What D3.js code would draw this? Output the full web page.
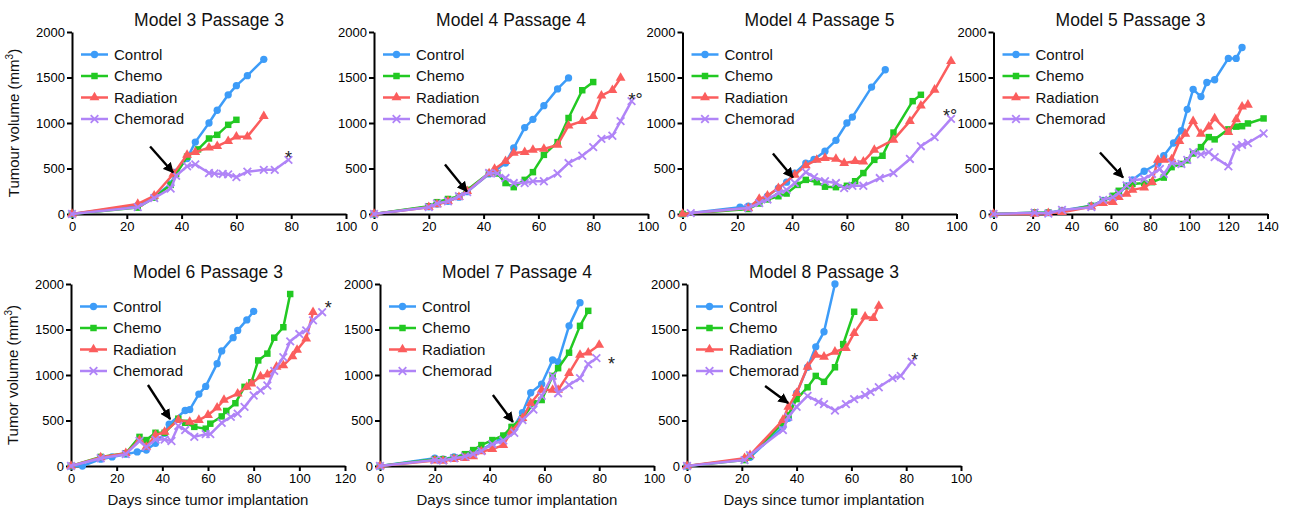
<!DOCTYPE html>
<html lang="en">
<head>
  <meta charset="UTF-8">
  <title>Tumour growth by model and passage</title>
  <script src="https://d3js.org/d3.v7.min.js"></script>
  <style>
    body {
      margin: 0;
      background: #ffffff;
      font-family: 'Liberation Sans', Arial, sans-serif;
    }
    .axis path,
    .axis line {
      stroke: #000;
      stroke-width: 2;
    }
    .axis text {
      font-family: 'Liberation Sans', Arial, sans-serif;
      font-size: 13px;
      fill: #000;
    }
    .title {
      font-size: 17.5px;
      text-anchor: middle;
      fill: #111;
    }
    .legend text {
      font-size: 15px;
      fill: #111;
    }
    .axis-label {
      font-size: 15px;
      fill: #111;
      text-anchor: middle;
    }
    .star {
      font-size: 18px;
      fill: #222;
    }
  </style>
</head>
<body>
  <div id="chart"></div>
  <script>
    // ---- data: [day, volume mm3] ----
    const titles = ["Model 3 Passage 3", "Model 4 Passage 4", "Model 4 Passage 5", "Model 5 Passage 3",
                    "Model 6 Passage 3", "Model 7 Passage 4", "Model 8 Passage 3"];
    const seriesNames = ["Control", "Chemo", "Radiation", "Chemorad"];
    const xMax = [100, 100, 100, 140, 120, 100, 100];
    const yTicks = [0, 500, 1000, 1500, 2000];
    const yLabels = ["Tumour volume (mm", "Tumor volume (mm"];
    const xLabel = "Days since tumor implantation";
    const stars = ["*", "*\u00b0", "*\u00b0", "", "*", "*", "*"];

    const m3p3Control = [[0,0],[24,95],[30,190],[36,330],[38,460],[42,610],[45,790],[50,1000],[53,1140],[57,1310],[60,1410],[64,1520],[70,1700]];
    const m3p3Chemo = [[0,0],[24,70],[30,180],[36,320],[38,440],[42,630],[46,710],[50,830],[53,870],[57,980],[60,1035]];
    const m3p3Radiation = [[0,0],[24,110],[30,200],[37,440],[42,650],[45,680],[50,730],[53,745],[57,800],[60,850],[64,850],[70,1075]];
    const m3p3Chemorad = [[0,0],[24,75],[30,175],[36,280],[38,420],[42,525],[45,545],[50,450],[52,445],[55,440],[57,435],[60,405],[64,465],[70,485],[74,485],[79,595]];

    const m4p4Control = [[0,0],[20,80],[23,110],[27,140],[31,185],[34,245],[42,440],[44,470],[48,560],[51,725],[55,950],[58,1040],[62,1190],[67,1375],[71,1495]];
    const m4p4Chemo = [[0,0],[20,85],[23,130],[27,165],[31,195],[34,265],[42,450],[45,445],[48,340],[51,295],[55,375],[58,460],[62,650],[67,790],[71,1055],[76,1360],[80,1450]];
    const m4p4Radiation = [[0,0],[20,75],[23,105],[27,140],[31,185],[34,250],[42,445],[44,495],[48,580],[51,670],[55,680],[58,705],[62,715],[67,760],[71,970],[76,1020],[80,1075],[83,1300],[87,1360],[90,1495]];
    const m4p4Chemorad = [[0,0],[20,75],[23,115],[27,140],[31,195],[34,240],[42,450],[45,445],[48,395],[51,340],[55,340],[58,360],[62,360],[67,445],[71,560],[76,640],[80,735],[83,825],[87,860],[90,1020],[94,1240]];

    const m4p5Control = [[0,0],[21,75],[24,85],[28,140],[31,195],[35,285],[38,350],[41,450],[45,560],[48,600],[52,690],[56,810],[60,1000],[62,1065],[69,1395],[74,1585]];
    const m4p5Chemo = [[0,0],[24,55],[28,115],[31,160],[35,195],[38,225],[42,320],[45,375],[49,350],[52,300],[56,295],[60,310],[63,360],[66,450],[70,595],[73,640],[77,895],[84,1240],[87,1310]];
    const m4p5Radiation = [[0,0],[24,65],[28,165],[31,200],[35,285],[41,430],[45,535],[49,595],[52,615],[56,605],[59,560],[63,580],[66,575],[70,705],[77,815],[83,1020],[87,1190],[92,1365],[98,1680]];
    const m4p5Chemorad = [[3,10],[24,65],[28,120],[31,160],[35,230],[38,265],[41,340],[45,460],[48,405],[52,360],[56,340],[59,285],[62,310],[66,310],[72,395],[77,450],[83,605],[87,745],[92,845],[98,1045]];

    const m5p3Control = [[0,0],[21,15],[28,15],[35,40],[50,90],[56,150],[61,180],[64,220],[68,310],[71,375],[77,470],[84,555],[87,640],[92,780],[96,915],[99,1150],[102,1370],[106,1290],[109,1445],[113,1475],[120,1710],[124,1710],[127,1830]];
    const m5p3Chemo = [[0,0],[21,15],[28,15],[35,30],[50,90],[56,145],[61,200],[64,255],[68,305],[71,330],[77,340],[81,350],[87,400],[91,515],[96,550],[99,590],[102,665],[106,735],[110,845],[113,820],[120,930],[124,960],[127,965],[130,995],[138,1050]];
    const m5p3Radiation = [[0,0],[21,0],[28,10],[35,20],[50,80],[56,120],[61,130],[64,185],[68,220],[71,265],[77,290],[81,350],[84,595],[87,595],[91,600],[95,800],[98,880],[102,1020],[106,880],[110,960],[113,1050],[120,900],[124,1040],[127,1180],[130,1200]];
    const m5p3Chemorad = [[0,0],[21,15],[28,5],[35,45],[50,75],[56,155],[61,185],[64,230],[68,315],[71,370],[77,385],[81,440],[85,495],[87,440],[91,560],[96,550],[99,595],[102,680],[106,655],[110,680],[113,625],[120,525],[124,735],[127,760],[130,780],[138,885]];

    const m6p3Control = [[0,0],[5,0],[13,75],[18,100],[24,130],[29,155],[33,175],[37,250],[41,360],[43,460],[50,610],[52,620],[56,790],[59,875],[64,1125],[66,1265],[71,1410],[73,1490],[77,1605],[80,1700]];
    const m6p3Chemo = [[0,0],[13,100],[24,140],[30,320],[33,285],[37,365],[41,365],[47,520],[50,475],[54,430],[59,410],[61,465],[66,545],[68,605],[72,690],[76,870],[79,920],[82,1160],[86,1235],[89,1410],[93,1525],[96,1890]];
    const m6p3Radiation = [[0,0],[13,95],[24,140],[30,285],[33,210],[37,340],[41,375],[47,505],[52,485],[56,505],[60,560],[64,640],[67,725],[73,795],[77,870],[79,905],[83,985],[86,1005],[90,1090],[93,1105],[97,1205],[99,1275],[103,1400],[106,1690]];
    const m6p3Chemorad = [[0,0],[13,85],[24,130],[30,275],[33,210],[37,290],[41,290],[44,275],[47,440],[50,395],[54,320],[59,350],[61,350],[66,475],[70,540],[73,575],[76,650],[80,775],[83,830],[86,885],[89,1045],[93,1195],[96,1370],[100,1450],[103,1490],[106,1600],[110,1690]];

    const m7p4Control = [[0,0],[20,85],[23,75],[27,100],[31,120],[34,155],[37,175],[41,250],[44,285],[48,395],[52,585],[55,805],[59,900],[63,1165],[65,1145],[69,1540],[73,1795]];
    const m7p4Chemo = [[0,0],[20,75],[23,75],[27,90],[31,130],[34,175],[37,230],[41,285],[45,335],[48,430],[52,525],[56,690],[59,725],[63,990],[65,1075],[69,1245],[73,1540],[76,1705]];
    const m7p4Radiation = [[0,0],[20,60],[23,55],[27,75],[31,85],[34,105],[37,160],[41,185],[45,230],[48,380],[52,525],[55,690],[59,835],[63,835],[65,835],[69,1020],[73,1220],[76,1245],[80,1330]];
    const m7p4Chemorad = [[0,0],[20,65],[23,60],[27,85],[31,105],[34,130],[37,165],[41,240],[45,280],[49,365],[52,505],[56,620],[59,770],[63,990],[65,800],[69,890],[73,965],[76,1120],[79,1185]];

    const m8p3Control = [[0,0],[21,75],[23,95],[35,430],[37,525],[40,800],[44,1085],[47,1310],[50,1475],[54,2000]];
    const m8p3Chemo = [[0,0],[21,65],[23,110],[35,475],[37,560],[40,735],[44,865],[47,990],[50,925],[54,1085],[57,1340],[61,1695]];
    const m8p3Radiation = [[0,0],[21,85],[23,120],[35,505],[37,650],[40,800],[44,1090],[47,1220],[50,1200],[54,1255],[58,1295],[61,1460],[65,1640],[68,1625],[70,1760]];
    const m8p3Chemorad = [[0,0],[21,65],[23,120],[35,395],[37,540],[40,650],[44,770],[48,705],[50,680],[54,610],[58,680],[61,735],[65,780],[67,815],[70,865],[75,965],[78,990],[82,1145]];

    // treatment arrows: [tail, tip] in [day, volume]
    const arrows = [
      [[28.5, 742], [36.9, 456]],
      [[25.9, 544], [33.9, 247]],
      [[33.0, 665], [40.3, 401]],
      [[54.4, 676], [66.2, 401]],
      [[33.7, 890], [43.4, 516]],
      [[41.2, 780], [48.5, 484]],
      [[28.5, 879], [36.9, 692]]
    ];

    const panelSeries = [
      [m3p3Control, m3p3Chemo, m3p3Radiation, m3p3Chemorad],
      [m4p4Control, m4p4Chemo, m4p4Radiation, m4p4Chemorad],
      [m4p5Control, m4p5Chemo, m4p5Radiation, m4p5Chemorad],
      [m5p3Control, m5p3Chemo, m5p3Radiation, m5p3Chemorad],
      [m6p3Control, m6p3Chemo, m6p3Radiation, m6p3Chemorad],
      [m7p4Control, m7p4Chemo, m7p4Radiation, m7p4Chemorad],
      [m8p3Control, m8p3Chemo, m8p3Radiation, m8p3Chemorad]
    ];

    // ---- layout & style ----
    const colors = ["#3d9cf8", "#22c922", "#fb5d5d", "#b084f7"];
    const plotW = 274, plotH = 182;
    const rowTop = [32, 284];
    const panelPos = [
      { x: 72, row: 0 }, { x: 374, row: 0 }, { x: 682.5, row: 0 }, { x: 993.5, row: 0 },
      { x: 71, row: 1 }, { x: 380, row: 1 }, { x: 687, row: 1 }
    ];
    // star label offsets from the last Chemorad point
    const starOffset = [[0, 4], [4, 5], [-1, 3], [0, 0], [6, 2], [15, 12], [3, 4]];

    const svg = d3.select("#chart")
      .append("svg")
      .attr("width", 1293)
      .attr("height", 511);

    const defs = svg.append("defs");
    defs.append("marker")
      .attr("id", "head")
      .attr("viewBox", "0 0 10 10")
      .attr("refX", 9)
      .attr("refY", 5)
      .attr("markerWidth", 4.4)
      .attr("markerHeight", 4.4)
      .attr("markerUnits", "strokeWidth")
      .attr("orient", "auto")
      .append("path")
      .attr("d", "M0,0 L10,5 L0,10 Z")
      .attr("fill", "#000");

    const xShape = "M-3.8,-3.8L3.8,3.8M-3.8,3.8L3.8,-3.8";
    function drawMarker(sel, i) {
      if (i === 0) {
        sel.append("path").attr("d", d3.symbol().type(d3.symbolCircle).size(42)).attr("fill", colors[i]);
      } else if (i === 1) {
        sel.append("path").attr("d", d3.symbol().type(d3.symbolSquare).size(42)).attr("fill", colors[i]);
      } else if (i === 2) {
        sel.append("path").attr("d", d3.symbol().type(d3.symbolTriangle).size(42)).attr("fill", colors[i]);
      } else {
        sel.append("path").attr("d", xShape).attr("stroke", colors[i]).attr("stroke-width", 1.8).attr("fill", "none");
      }
    }

    titles.forEach((title, p) => {
      const pos = panelPos[p];
      const top = rowTop[pos.row];
      const g = svg.append("g").attr("transform", `translate(${pos.x},${top})`);

      const x = d3.scaleLinear().domain([0, xMax[p]]).range([0, plotW]);
      const y = d3.scaleLinear().domain([0, 2000]).range([plotH, 0]);

      g.append("text")
        .attr("class", "title")
        .attr("x", plotW / 2)
        .attr("y", -6)
        .text(title);

      g.append("g")
        .attr("class", "axis")
        .call(d3.axisLeft(y).tickValues(yTicks).tickFormat(d3.format("d"))
          .tickSize(5).tickSizeOuter(0).tickPadding(2));

      g.append("g")
        .attr("class", "axis")
        .attr("transform", `translate(0,${plotH})`)
        .call(d3.axisBottom(x).tickValues(d3.range(0, xMax[p] + 1, 20)).tickFormat(d3.format("d"))
          .tickSize(5).tickSizeOuter(0).tickPadding(3));

      if (pos.x < 100) {
        const lab = g.append("text")
          .attr("class", "axis-label")
          .attr("transform", `translate(-53,${plotH / 2}) rotate(-90)`);
        lab.append("tspan").text(yLabels[pos.row]);
        lab.append("tspan").attr("font-size", "10px").attr("dy", "-6").text("3");
        lab.append("tspan").attr("dy", "6").text(")");
      }
      if (pos.row === 1) {
        g.append("text")
          .attr("class", "axis-label")
          .attr("x", plotW / 2)
          .attr("y", plotH + 39)
          .text(xLabel);
      }

      const line = d3.line().x(d => x(d[0])).y(d => y(d[1]));

      panelSeries[p].forEach((series, i) => {
        g.append("path")
          .datum(series)
          .attr("d", line)
          .attr("fill", "none")
          .attr("stroke", colors[i])
          .attr("stroke-width", 2.5)
          .attr("stroke-linejoin", "round");
        g.selectAll(null)
          .data(series)
          .enter()
          .append("g")
          .attr("transform", d => `translate(${x(d[0])},${y(d[1])})`)
          .each(function () { drawMarker(d3.select(this), i); });
      });

      // treatment arrow
      const a = arrows[p];
      g.append("line")
        .attr("x1", x(a[0][0])).attr("y1", y(a[0][1]))
        .attr("x2", x(a[1][0])).attr("y2", y(a[1][1]))
        .attr("stroke", "#000")
        .attr("stroke-width", 2.4)
        .attr("marker-end", "url(#head)");

      // significance star
      if (stars[p]) {
        const last = panelSeries[p][3][panelSeries[p][3].length - 1];
        g.append("text")
          .attr("class", "star")
          .attr("text-anchor", "middle")
          .attr("x", x(last[0]) + starOffset[p][0])
          .attr("y", y(last[1]) + starOffset[p][1])
          .text(stars[p]);
      }

      // legend
      const legend = g.append("g").attr("class", "legend");
      seriesNames.forEach((name, i) => {
        const ly = 22.5 + i * 21.5;
        legend.append("line")
          .attr("x1", 9).attr("x2", 36)
          .attr("y1", ly).attr("y2", ly)
          .attr("stroke", colors[i])
          .attr("stroke-width", 2.5);
        drawMarker(legend.append("g").attr("transform", `translate(22.5,${ly})`), i);
        legend.append("text")
          .attr("x", 42)
          .attr("y", ly)
          .attr("dy", "0.35em")
          .text(name);
      });
    });
  </script>
</body>
</html>
